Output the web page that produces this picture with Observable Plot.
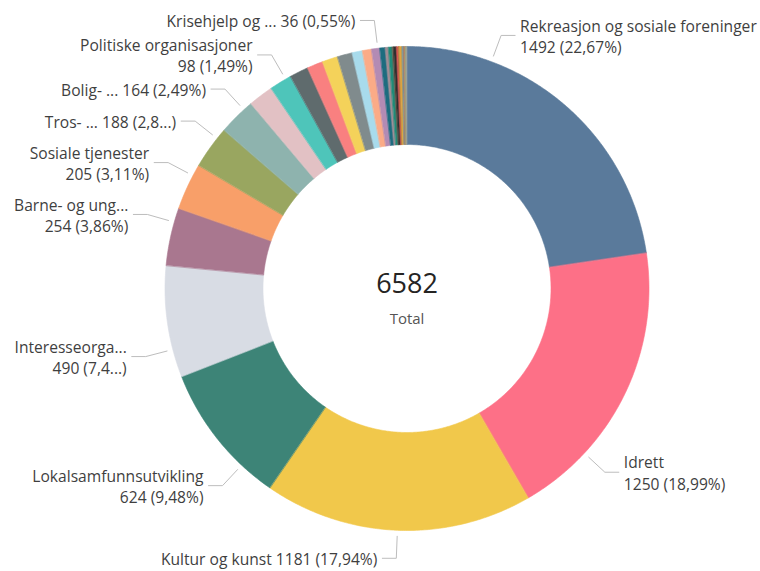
<!DOCTYPE html>
<html><head><meta charset="utf-8">
<script src="https://cdn.jsdelivr.net/npm/d3@7"></script>
<script src="https://cdn.jsdelivr.net/npm/@observablehq/plot@0.6"></script>
<style>body{margin:0;background:#fff;}</style>
</head><body><div id="chart"></div>
<script>
// ---- data ----
const categories = [
  "Rekreasjon og sosiale foreninger","Idrett","Kultur og kunst","Lokalsamfunnsutvikling",
  "Interesseorganisasjoner","Barne- og ungdomsorganisasjoner","Sosiale tjenester",
  "Tros- og livssynssamfunn","Bolig- og lokalmiljø","Helse, pleie og redning",
  "Politiske organisasjoner","Utdanning og forskning","Natur, miljø og dyrevern",
  "Internasjonale organisasjoner","Arbeidslivsorganisasjoner","Stiftelser og fond",
  "Skoler og barnehager","Krisehjelp og støttearbeid","Næringsorganisasjoner",
  "Yrkesorganisasjoner","Filantropi","Rusomsorg","Beredskap","Menneskerettigheter",
  "Forbrukerorganisasjoner","Historielag","Museer","Pensjonistforeninger","Velforeninger","Annet"
];
const values = [1492,1250,1181,624,490,254,205,188,164,110,98,83,70,68,66,45,40,36,24,14,16,6,13,8,4,12,8,6,4,3];
const colors = [
  "#5a7a9b","#fd7087","#f1c84b","#3d8477","#d8dce4","#a9778f","#f89f69","#99a660",
  "#8eb3ae","#e2c1c4","#4ec5ba","#5f6b6d","#f98080","#f4d25a","#808b8d","#a8dbec",
  "#fbab87","#b38bb4","#1d6c7f","#a08c94","#1f8b78","#6e5c4c","#2f2f2f","#e05350",
  "#9a7a3a","#dfa33c","#6b8e9b","#c47a59","#8aa86e","#9e9e9e"
];
const labelTexts = {
  0: "Rekreasjon og sosiale foreninger\n1492 (22,67%)",
  1: "Idrett\n1250 (18,99%)",
  2: "Kultur og kunst 1181 (17,94%)",
  3: "Lokalsamfunnsutvikling\n624 (9,48%)",
  4: "Interesseorga...\n490 (7,4...)",
  5: "Barne- og ung...\n254 (3,86%)",
  6: "Sosiale tjenester\n205 (3,11%)",
  7: "Tros- ... 188 (2,8...)",
  8: "Bolig- ... 164 (2,49%)",
  10: "Politiske organisasjoner\n98 (1,49%)",
  17: "Krisehjelp og ... 36 (0,55%)"
};
const totalLabel = "Total";

// ---- layout ----
const W = 760, H = 571, CX = 406.5, CY = 288, R = 242;
const INNER = 144 / R;
const anchorFrac = {0:0.25,1:0.75,2:0.5,3:0.25,4:0.25,5:0.75,6:0.75,7:0.75,8:0.75,10:0.75,17:0.75};

const total = d3.sum(values);
const rad = a => a * Math.PI / 180;
let acc = 0;
const slices = categories.map((c, i) => {
  const a0 = acc / total * 360; acc += values[i]; const a1 = acc / total * 360;
  return {c, i, a0, a1};
});
const pts = [];
for (const s of slices) {
  const n = Math.max(2, Math.ceil((s.a1 - s.a0) / 0.5) + 1);
  for (let k = 0; k < n; k++) { const a = rad(s.a0 + (s.a1 - s.a0) * k / (n - 1)); pts.push({c: s.c, x: Math.sin(a), y: Math.cos(a)}); }
  for (let k = n - 1; k >= 0; k--) { const a = rad(s.a0 + (s.a1 - s.a0) * k / (n - 1)); pts.push({c: s.c, x: INNER * Math.sin(a), y: INNER * Math.cos(a)}); }
}
const leaders = [], labels = [];
for (const s of slices) {
  if (!(s.i in labelTexts)) continue;
  const th = s.a0 + anchorFrac[s.i] * (s.a1 - s.a0);
  const t = rad(th);
  const side = th > 180 ? -1 : 1;
  const r1 = 1 + 6 / R, r2 = 1 + 28 / R;
  const p2 = {x: r2 * Math.sin(t), y: r2 * Math.cos(t)};
  const p3x = p2.x + side * 14 / R;
  leaders.push({k: s.i, x: r1 * Math.sin(t), y: r1 * Math.cos(t)});
  leaders.push({k: s.i, x: p2.x, y: p2.y});
  leaders.push({k: s.i, x: p3x, y: p2.y});
  labels.push({side, x: p3x + side * 5 / R, y: p2.y, text: labelTexts[s.i]});
}

const chart = Plot.plot({
  width: W, height: H, margin: 0,
  x: {domain: [-CX / R, (W - CX) / R], axis: null},
  y: {domain: [-(H - CY) / R, CY / R], axis: null},
  color: {domain: categories, range: colors},
  style: {fontFamily: "'Open Sans', sans-serif", background: "white"},
  marks: [
    Plot.line(pts, {x: "x", y: "y", z: "c", fill: "c", stroke: "c", strokeWidth: 0.6, curve: "linear-closed"}),
    Plot.line(leaders, {x: "x", y: "y", z: "k", stroke: "#bdbdbd", strokeWidth: 1}),
    Plot.text(labels.filter(d => d.side < 0), {x: "x", y: "y", text: "text", textAnchor: "end", lineAnchor: "middle", fontSize: 15.6, lineHeight: 1.36, fill: "#3f3f3f"}),
    Plot.text(labels.filter(d => d.side > 0), {x: "x", y: "y", text: "text", textAnchor: "start", lineAnchor: "middle", fontSize: 15.6, lineHeight: 1.36, fill: "#3f3f3f"}),
    Plot.text([String(total)], {x: () => 0, y: () => 4 / R, text: d => d, fontSize: 27, fill: "#252423"}),
    Plot.text([totalLabel], {x: () => 0, y: () => -31 / R, text: d => d, fontSize: 15, fill: "#555"})
  ]
});
document.getElementById("chart").appendChild(chart);
</script>
</body></html>
